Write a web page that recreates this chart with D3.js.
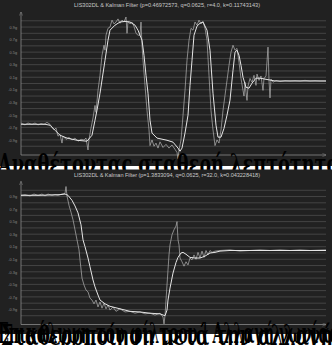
<!DOCTYPE html>
<html>
<head>
<meta charset="utf-8">
<style>
  html, body { margin: 0; padding: 0; background: #fff; }
  svg { display: block; }
</style>
</head>
<body>
<div id="container"></div>
<script src="https://cdn.jsdelivr.net/npm/d3@7"></script>
<script>

// chart size
const width = 332;
const height = 345;

/*** DATA (g units, t = sample index) ***/

const titles = [
  "LIS302DL & Kalman Filter (p=0.46972573, q=0.0625, r=4.0, k=0.11743143)",
  "LIS302DL & Kalman Filter (p=1.3833094, q=0.0625, r=32.0, k=0.043228418)"
];
const captions1 = ["Αναθέτοντας σταθερή λεπτότητα"];
const captions2 = ["Επικάλυψη του φίλτρου | Αλλαγή γωνίας", "Σταθεροποίηση μετά την αλλαγή"];

const gridValues = d3.range(-10, 11).map(i => i / 10);
const tickValues = [0.9, 0.7, 0.5, 0.3, 0.1, -0.1, -0.3, -0.5, -0.7, -0.9];

// top chart, raw accelerometer
const raw1T = [0,4,7,11,14,17,20,23,26,29,31,33,35,37,39,41,42,45,48,51,54,57,60,63,65,67,68,70,72,74,75,77,79,81,83,84,85,87,89,91,93,95,97,99,101,103,105,106,107,109,111,113,115,117,119,120,121,122,124,126,128,129,131,133,135,137,139,142,145,148,151,154,156,157,158,160,162,164,166,168,170,172,174,176,178,180,182,184,186,188,190,192,194,196,198,200,202,204,206,208,210,212,214,216,218,220,222,223,224,225,226,227,229,231,233,235,236,238,240,242,243,245,247,248,249,250,252,255,259,264,269,274,279,284,289,294,299,305];
const raw1G = [-0.63,-0.66,-0.63,-0.65,-0.63,-0.66,-0.64,-0.65,-0.62,-0.65,-0.70,-0.74,-0.71,-0.84,-0.81,-0.95,-0.84,-0.89,-0.86,-0.90,-0.87,-0.92,-0.89,-0.90,-0.87,-1.06,-0.89,-0.71,-0.55,-0.35,-0.46,-0.11,0.13,0.45,0.61,0.53,0.77,0.88,0.90,1.01,0.95,0.98,1.03,0.96,1.01,0.98,1.06,0.80,0.99,0.95,0.98,0.91,0.80,0.77,0.77,0.98,0.61,0.37,-0.03,-0.43,-0.74,-0.99,-0.90,-1.00,-0.95,-1.03,-0.93,-1.02,-0.97,-1.03,-0.98,-1.05,-1.10,-1.20,-1.06,-0.90,-0.51,-0.11,0.37,0.69,0.88,0.85,0.98,0.93,1.01,0.95,0.99,0.88,0.69,0.13,-0.43,-0.74,-0.99,-0.90,-0.95,-0.74,-0.43,-0.19,0.05,0.29,0.50,0.61,0.53,0.56,0.34,0.08,-0.11,-0.20,0.02,-0.14,-0.27,-0.04,0.08,0.02,0.13,-0.03,0.15,0.05,0.12,-0.11,0.08,0.12,0.58,0.05,-0.23,0.07,0.02,0.05,0.03,0.045,0.04,0.045,0.04,0.05,0.04,0.045,0.04,0.04];

// top chart, Kalman output
const filt1T = [0,9,24,29,34,39,46,56,66,71,74,76,79,84,87,89,94,99,104,109,114,117,121,123,125,127,129,131,136,146,152,157,159,161,164,167,169,171,173,176,179,182,186,189,192,195,197,200,203,206,209,212,214,216,218,220,222,225,228,231,235,239,244,249,254,279,305];
const filt1G = [-0.65,-0.65,-0.65,-0.665,-0.745,-0.825,-0.87,-0.905,-0.92,-0.825,-0.585,-0.425,-0.155,0.37,0.69,0.85,0.93,0.98,0.99,0.98,0.93,0.85,0.69,0.45,0.13,-0.155,-0.585,-0.79,-0.87,-0.905,-0.935,-1.03,-1.08,-1.03,-0.79,-0.505,-0.03,0.37,0.77,0.915,0.96,0.98,0.85,0.53,-0.155,-0.665,-0.855,-0.855,-0.715,-0.505,-0.265,0.21,0.5,0.53,0.45,0.29,0.10,-0.06,-0.075,0.005,0.085,0.085,0.07,0.055,0.04,0.04,0.04];

// bottom chart, raw accelerometer
const raw2T = [0,4,9,13,17,21,24,27,31,34,37,41,44,45,46,48,50,52,54,56,58,59,61,63,65,67,69,71,73,75,77,79,81,83,85,87,89,92,95,99,104,109,114,119,124,129,134,139,142,143,144,145,146,147,148,149,151,153,155,156,157,158,159,161,163,165,167,169,171,173,175,177,179,181,183,185,187,189,191,194,199,209,219,229,239,249,259,269,279,289,305];
const raw2G = [0.92,0.93,0.91,0.94,0.92,0.94,0.91,0.94,0.92,0.93,0.92,0.94,0.95,1.06,0.91,0.76,0.65,0.53,0.37,0.21,0.05,-0.11,-0.40,-0.51,-0.59,-0.62,-0.72,-0.75,-0.81,-0.75,-0.86,-0.78,-0.88,-0.80,-0.89,-0.83,-0.91,-0.86,-0.93,-0.89,-0.94,-0.93,-0.96,-0.94,-0.97,-0.96,-0.99,-0.96,-1.02,-1.13,-1.00,-0.75,-0.51,-0.27,-0.03,0.13,0.29,0.37,0.43,0.50,0.21,0.13,-0.08,-0.14,-0.21,-0.14,-0.19,-0.08,-0.11,-0.03,-0.10,0.01,-0.08,0.03,-0.07,0.04,-0.03,0.04,0.01,0.03,0.04,0.05,0.03,0.04,0.05,0.04,0.05,0.04,0.05,0.04,0.05];

// bottom chart, Kalman output
const filt2T = [0,19,39,44,47,51,54,57,60,62,64,67,69,72,74,77,79,84,89,99,109,119,129,139,144,146,147,149,152,155,157,160,162,165,169,174,179,184,189,194,199,209,305];
const filt2G = [0.92,0.92,0.93,0.94,0.92,0.84,0.75,0.64,0.45,0.21,0.10,-0.08,-0.22,-0.43,-0.54,-0.67,-0.75,-0.81,-0.85,-0.89,-0.93,-0.94,-0.96,-0.97,-1.00,-0.91,-0.75,-0.56,-0.32,-0.15,-0.07,0.00,0.01,-0.02,-0.07,-0.08,-0.08,-0.05,0.00,0.01,0.03,0.04,0.04];

/*** SCALES ***/

const x = d3.scaleLinear().domain([0, 305]).range([21, 326]);
const y = d3.scaleLinear().domain([-1.14, 1.14]).range([155, 12]);

const line = d3.line()
    .x(d => x(d[0]))
    .y(d => y(d[1]));

const svg = d3.create("svg")
    .attr("width", width)
    .attr("height", height)
    .attr("viewBox", [0, 0, width, height]);

svg.append("rect").attr("width", width).attr("height", height).attr("fill", "#fff");

// arrow head for the axes
svg.append("defs").append("marker")
    .attr("id", "arrow")
    .attr("viewBox", "0 0 10 10")
    .attr("refX", 9).attr("refY", 5)
    .attr("markerWidth", 5).attr("markerHeight", 5)
    .attr("orient", "auto")
  .append("path")
    .attr("d", "M0,1L10,5L0,9")
    .attr("fill", "none")
    .attr("stroke", "#8a8a8a")
    .attr("stroke-width", 1.2);

function drawPanel(top, panelHeight, title, rawT, rawG, filtT, filtG) {
  const g = svg.append("g").attr("transform", `translate(0,${top})`);

  g.append("rect")
      .attr("width", width)
      .attr("height", panelHeight)
      .attr("fill", "#212121");

  g.append("text")
      .attr("x", 167)
      .attr("y", 7)
      .attr("text-anchor", "middle")
      .attr("font-family", "Liberation Sans, Arial, sans-serif")
      .attr("font-size", 5.6)
      .attr("textLength", 186)
      .attr("fill", "#c8c8c8")
      .text(title);

  // grid
  g.append("g")
    .selectAll("line")
    .data(gridValues)
    .join("line")
      .attr("x1", x(0)).attr("x2", x(305))
      .attr("y1", d => y(d)).attr("y2", d => y(d))
      .attr("stroke", "#4c4c4c")
      .attr("stroke-width", 0.8);

  // y tick labels
  const ay = g.append("g")
      .attr("transform", `translate(${x(0)},0)`)
      .call(d3.axisLeft(y).tickValues(tickValues).tickSize(0).tickPadding(4)
        .tickFormat(d => d.toFixed(1) + "g"));
  ay.select(".domain").remove();
  ay.selectAll("text")
      .attr("font-family", "Liberation Sans, Arial, sans-serif")
      .attr("font-size", 3.8)
      .attr("fill", "#8c8c8c");

  // axes with arrows
  g.append("line")
      .attr("x1", x(0)).attr("x2", x(0))
      .attr("y1", y(-1.14)).attr("y2", y(1.14))
      .attr("stroke", "#8a8a8a").attr("stroke-width", 0.8)
      .attr("marker-end", "url(#arrow)");
  g.append("line")
      .attr("x1", x(0)).attr("x2", x(305))
      .attr("y1", y(-1.14)).attr("y2", y(-1.14))
      .attr("stroke", "#8a8a8a").attr("stroke-width", 0.8)
      .attr("marker-end", "url(#arrow)");

  // raw reading
  g.append("path")
      .attr("fill", "none")
      .attr("stroke", "#b4b4b4")
      .attr("stroke-width", 0.7)
      .attr("d", line(rawT.map((t, i) => [t, rawG[i]])));

  // Kalman filtered
  g.append("path")
      .attr("fill", "none")
      .attr("stroke", "#e6e6e6")
      .attr("stroke-width", 1)
      .attr("d", line(filtT.map((t, i) => [t, filtG[i]])));
}

const captionFont = "DejaVu Serif, serif";

drawPanel(0, 166, titles[0], raw1T, raw1G, filt1T, filt1G);

// first caption, its lower half hidden by the second panel
svg.append("text")
    .attr("x", -2)
    .attr("y", 174)
    .attr("font-family", captionFont)
    .attr("font-weight", "bold")
    .attr("font-size", 28)
    .attr("textLength", 342)
    .attr("lengthAdjust", "spacingAndGlyphs")
    .attr("fill", "#000")
    .text(captions1[0]);

drawPanel(169.5, 164.5, titles[1], raw2T, raw2G, filt2T, filt2G);

// second caption, two lines printed on top of each other
svg.append("text")
    .attr("x", -2)
    .attr("y", 343)
    .attr("font-family", captionFont)
    .attr("font-weight", "bold")
    .attr("font-size", 27)
    .attr("textLength", 340)
    .attr("lengthAdjust", "spacingAndGlyphs")
    .attr("fill", "#000")
    .text(captions2[0]);
svg.append("text")
    .attr("x", 1)
    .attr("y", 345)
    .attr("font-family", captionFont)
    .attr("font-weight", "bold")
    .attr("font-size", 27)
    .attr("textLength", 332)
    .attr("lengthAdjust", "spacingAndGlyphs")
    .attr("fill", "#000")
    .text(captions2[1]);

container.append(svg.node());
</script>
</body>
</html>
